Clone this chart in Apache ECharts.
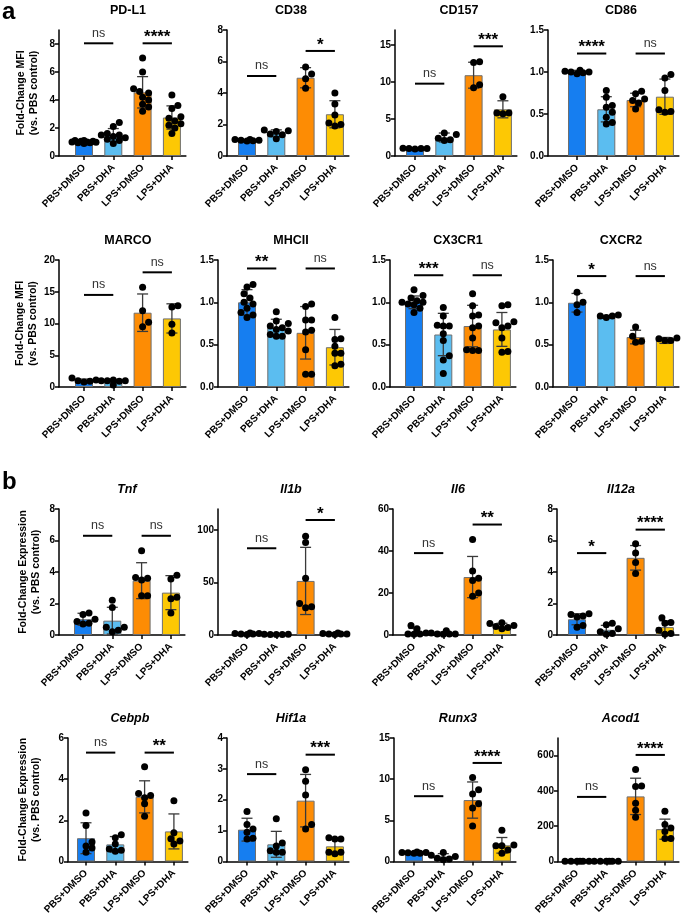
<!DOCTYPE html>
<html>
<head>
<meta charset="utf-8">
<script src="https://cdn.jsdelivr.net/npm/echarts@6/dist/echarts.min.js"></script>
<style>
  html, body { margin: 0; padding: 0; background: #fff; }
  #main { width: 685px; height: 917px; }
</style>
</head>
<body>
<div id="main"></div>
<script>
// groups on the x axis
const groups = ['PBS+DMSO', 'PBS+DHA', 'LPS+DMSO', 'LPS+DHA'];
const groupColors = ['#167ef0', '#5bbdf0', '#fd8c04', '#fdc804'];

// ---- panel a ----
const pdl1Mean = [1.0, 1.5, 4.55, 2.75];
const pdl1Sd = [0.08, 0.46, 1.12, 0.83];
const pdl1Pts = [[1.0, 0.95, 1.05, 1.1, 0.9, 1.0, 1.05, 0.95, 1.1, 0.98], [1.2, 0.9, 1.5, 1.4, 1.6, 1.1, 2.1, 2.4, 1.5, 1.3], [7.0, 6.0, 4.8, 4.6, 4.5, 4.2, 4.0, 3.7, 3.5, 3.2], [4.35, 3.6, 3.4, 2.8, 2.7, 2.5, 2.3, 2.2, 2.0, 1.6]];
const pdl1Ticks = [0, 2, 4, 6, 8];
const pdl1Sig = [[0, 1, 8.05, 'ns'], [2, 3, 8.05, '****']];

const cd38Mean = [1.0, 1.44, 4.97, 2.65];
const cd38Sd = [0.05, 0.22, 0.64, 0.86];
const cd38Pts = [[1.05, 1.0, 0.95, 1.0, 1.05, 0.97], [1.4, 1.55, 1.1, 1.65, 1.6, 1.35], [5.65, 5.2, 4.9, 4.3], [2.0, 4.0, 3.3, 1.9, 2.6, 2.1]];
const cd38Ticks = [0, 2, 4, 6, 8];
const cd38Sig = [[0, 1, 5.08, 'ns'], [2, 3, 6.67, '*']];

const cd157Mean = [1.0, 2.5, 10.9, 6.3];
const cd157Sd = [0.05, 0.6, 1.75, 1.15];
const cd157Pts = [[1.0, 1.0, 1.05, 0.95, 1.0], [2.1, 2.9, 2.2, 3.1, 2.4], [9.2, 12.6, 12.7, 9.6], [8.0, 5.8, 5.7, 5.8]];
const cd157Ticks = [0, 5, 10, 15];
const cd157Sig = [[0, 1, 9.76, 'ns'], [2, 3, 14.8, '***']];

const cd86Mean = [1.0, 0.556, 0.667, 0.706];
const cd86Sd = [0.02, 0.15, 0.08, 0.21];
const cd86Pts = [[0.98, 1.0, 1.02, 1.01, 0.99, 1.0], [0.40, 0.52, 0.70, 0.78, 0.60, 0.46, 0.38, 0.58], [0.68, 0.74, 0.56, 0.77, 0.66, 0.63], [0.93, 0.78, 0.52, 0.55, 0.53, 0.97]];
const cd86Ticks = [0, 0.5, 1.0, 1.5];
const cd86Sig = [[0, 1, 1.22, '****'], [2, 3, 1.22, 'ns']];

const marcoMean = [1.05, 0.94, 11.7, 10.8];
const marcoSd = [0.2, 0.25, 2.95, 2.3];
const marcoPts = [[1.0, 0.9, 1.1, 0.8, 1.4], [1.0, 0.3, 1.0, 1.1, 0.9, 1.0], [9.5, 15.7, 12.0, 10.2], [12.6, 9.9, 8.5, 12.8]];
const marcoTicks = [0, 5, 10, 15, 20];
const marcoSig = [[0, 1, 14.5, 'ns'], [2, 3, 18.06, 'ns']];

const mhc2Mean = [1.0, 0.70, 0.64, 0.47];
const mhc2Sd = [0.15, 0.10, 0.31, 0.21];
const mhc2Pts = [[1.21, 0.82, 1.05, 0.98, 1.18, 0.88, 1.0, 0.85, 1.1, 0.93], [0.6, 0.75, 0.62, 0.89, 0.68, 0.78, 0.72, 0.6, 0.66, 0.7], [0.98, 0.79, 0.65, 0.15, 0.67, 0.44, 0.95, 0.79, 0.15], [0.27, 0.48, 0.4, 0.82, 0.57, 0.25, 0.56, 0.4]];
const mhc2Ticks = [0, 0.5, 1.0, 1.5];
const mhc2Sig = [[0, 1, 1.40, '**'], [2, 3, 1.40, 'ns']];

const cx3cr1Mean = [1.0, 0.62, 0.72, 0.68];
const cx3cr1Sd = [0.075, 0.25, 0.245, 0.2];
const cx3cr1Pts = [[1.0, 0.88, 1.05, 1.15, 0.97, 1.02, 1.08, 0.93, 0.98, 1.0], [0.94, 0.84, 0.73, 0.72, 0.72, 0.63, 0.55, 0.37, 0.32, 0.16], [1.10, 0.96, 0.85, 0.84, 0.72, 0.7, 0.58, 0.44, 0.43, 0.43], [0.97, 0.96, 0.77, 0.76, 0.72, 0.7, 0.58, 0.42, 0.41]];
const cx3cr1Ticks = [0, 0.5, 1.0, 1.5];
const cx3cr1Sig = [[0, 1, 1.32, '***'], [2, 3, 1.32, 'ns']];

const cxcr2Mean = [0.995, 0.83, 0.59, 0.55];
const cxcr2Sd = [0.11, 0.015, 0.08, 0.035];
const cxcr2Pts = [[0.88, 1.0, 1.12, 0.97], [0.82, 0.84, 0.85, 0.84], [0.71, 0.60, 0.54, 0.53], [0.58, 0.57, 0.55, 0.55]];
const cxcr2Ticks = [0, 0.5, 1.0, 1.5];
const cxcr2Sig = [[0, 1, 1.31, '*'], [2, 3, 1.31, 'ns']];

// ---- panel b ----
const tnfMean = [1.0, 0.91, 3.45, 2.69];
const tnfSd = [0.38, 0.85, 1.14, 1.08];
const tnfPts = [[0.75, 1.0, 1.3, 1.4, 0.85, 0.7], [0.3, 2.2, 1.75, 0.5, 0.2, 0.5], [5.35, 3.65, 3.6, 3.5, 2.5, 2.5], [3.8, 2.3, 1.4, 2.4, 3.55]];
const tnfTicks = [0, 2, 4, 6, 8];
const tnfSig = [[0, 1, 6.3, 'ns'], [2, 3, 6.3, 'ns']];

const il1bMean = [1.2, 0.6, 51.5, 1.2];
const il1bSd = [0.5, 0.3, 32, 0.6];
const il1bPts = [[1.5, 1.0, 2.0, 0.5, 1.0, 1.5], [0.5, 0.6, 0.4, 0.7, 0.5], [94, 88, 54, 30, 27, 26], [2.0, 1.0, 0.5, 1.0, 1.5, 1.0]];
const il1bTicks = [0, 50, 100];
const il1bSig = [[0, 1, 82.6, 'ns'], [2, 3, 109.5, '*']];

const il6Mean = [1.5, 0.8, 27.6, 4.4];
const il6Sd = [1.6, 0.6, 9.8, 1.2];
const il6Pts = [[0.5, 3.0, 1.0, 4.5, 0.5, 0.3], [2.0, 1.0, 0.5, 0.5, 0.3, 0.5], [45.5, 30.5, 27, 26, 20, 18.5], [3.0, 4.0, 5.5, 4.5, 5.8, 3.6]];
const il6Ticks = [0, 20, 40, 60];
const il6Sig = [[0, 1, 39, 'ns'], [2, 3, 52.6, '**']];

const il12aMean = [1.0, 0.33, 4.9, 0.5];
const il12aSd = [0.35, 0.28, 0.78, 0.4];
const il12aPts = [[1.2, 0.5, 1.3, 1.35, 1.15, 0.6], [0.75, 0.65, 0.4, 0.2, 0.1, 0.05], [5.8, 5.2, 4.6, 3.9], [1.1, 0.8, 0.75, 0.3, 0.1, 0.05]];
const il12aTicks = [0, 2, 4, 6, 8];
const il12aSig = [[0, 1, 5.2, '*'], [2, 3, 6.69, '****']];

const cebpbMean = [1.13, 0.83, 3.14, 1.46];
const cebpbSd = [0.75, 0.38, 0.78, 0.85];
const cebpbPts = [[2.35, 1.75, 0.95, 0.75, 0.65, 0.45], [1.3, 1.15, 0.85, 0.55, 0.5, 0.6], [4.6, 3.3, 3.2, 3.1, 2.8, 2.2], [1.0, 2.95, 1.4, 0.85, 1.1]];
const cebpbTicks = [0, 2, 4, 6];
const cebpbSig = [[0, 1, 5.29, 'ns'], [2, 3, 5.29, '**']];

const hif1aMean = [1.03, 0.555, 1.97, 0.49];
const hif1aSd = [0.37, 0.42, 0.85, 0.24];
const hif1aPts = [[1.62, 1.2, 1.05, 0.95, 0.75, 0.73], [1.38, 0.6, 0.5, 0.35, 0.3, 0.3], [2.97, 2.6, 2.15, 1.2, 1.05], [0.77, 0.73, 0.73, 0.3, 0.25, 0.3]];
const hif1aTicks = [0, 1, 2, 3, 4];
const hif1aSig = [[0, 1, 2.83, 'ns'], [2, 3, 3.46, '***']];

const runx3Mean = [1.1, 0.6, 7.46, 1.96];
const runx3Sd = [0.08, 0.35, 2.2, 0.95];
const runx3Pts = [[1.1, 1.0, 1.1, 1.05, 1.0, 1.15], [1.1, 0.75, 0.6, 0.3, 0.2, 0.4], [8.2, 10.2, 4.3, 8.7, 6.5, 7.0], [1.4, 3.8, 1.9, 2.0, 1.9, 1.0]];
const runx3Ticks = [0, 5, 10, 15];
const runx3Sig = [[0, 1, 7.93, 'ns'], [2, 3, 11.97, '****']];

const acod1Mean = [1, 1, 369, 183];
const acod1Sd = [0.3, 0.3, 103, 57];
const acod1Pts = [[1.2, 0.8, 1.0, 1.1, 0.9, 1.0], [1.0, 1.1, 0.9, 1.0, 1.2, 0.8], [522, 428, 425, 330, 290, 250], [285, 210, 190, 170, 130, 130]];
const acod1Ticks = [0, 200, 400, 600];
const acod1Sig = [[0, 1, 366, 'ns'], [2, 3, 604, '****']];

const FONT = 'Liberation Sans, Arial, sans-serif';
const S = 29.3; // px between bar centres
const mfiName = 'Fold-Change MFI\n(vs. PBS control)';
const exprName = 'Fold-Change Expression\n(vs. PBS control)';

const panels = [
  { name: 'PD-L1', mean: pdl1Mean, sd: pdl1Sd, pts: pdl1Pts, ticks: pdl1Ticks, sig: pdl1Sig, max: 9, ax: 59, c0: 84, top: 30, bottom: 156, yName: mfiName, gap: 18 },
  { name: 'CD38', mean: cd38Mean, sd: cd38Sd, pts: cd38Pts, ticks: cd38Ticks, sig: cd38Sig, max: 8, ax: 227, c0: 247, top: 30, bottom: 156 },
  { name: 'CD157', mean: cd157Mean, sd: cd157Sd, pts: cd157Pts, ticks: cd157Ticks, sig: cd157Sig, max: 17, ax: 395, c0: 415, top: 30, bottom: 156 },
  { name: 'CD86', mean: cd86Mean, sd: cd86Sd, pts: cd86Pts, ticks: cd86Ticks, sig: cd86Sig, max: 1.5, ax: 548, c0: 577, top: 30, bottom: 156 },
  { name: 'MARCO', mean: marcoMean, sd: marcoSd, pts: marcoPts, ticks: marcoTicks, sig: marcoSig, max: 20, ax: 59, c0: 84, top: 260, bottom: 387, yName: mfiName, gap: 18 },
  { name: 'MHCII', mean: mhc2Mean, sd: mhc2Sd, pts: mhc2Pts, ticks: mhc2Ticks, sig: mhc2Sig, max: 1.5, ax: 218, c0: 247, top: 260, bottom: 387 },
  { name: 'CX3CR1', mean: cx3cr1Mean, sd: cx3cr1Sd, pts: cx3cr1Pts, ticks: cx3cr1Ticks, sig: cx3cr1Sig, max: 1.5, ax: 390, c0: 414, top: 260, bottom: 387 },
  { name: 'CXCR2', mean: cxcr2Mean, sd: cxcr2Sd, pts: cxcr2Pts, ticks: cxcr2Ticks, sig: cxcr2Sig, max: 1.5, ax: 553, c0: 577, top: 260, bottom: 387 },
  { name: 'Tnf', italic: true, mean: tnfMean, sd: tnfSd, pts: tnfPts, ticks: tnfTicks, sig: tnfSig, max: 8, ax: 59, c0: 83, top: 509, bottom: 635, yName: exprName, gap: 16 },
  { name: 'Il1b', italic: true, mean: il1bMean, sd: il1bSd, pts: il1bPts, ticks: il1bTicks, sig: il1bSig, max: 120, ax: 218, c0: 247, top: 509, bottom: 635 },
  { name: 'Il6', italic: true, mean: il6Mean, sd: il6Sd, pts: il6Pts, ticks: il6Ticks, sig: il6Sig, max: 60, ax: 393, c0: 414, top: 509, bottom: 635 },
  { name: 'Il12a', italic: true, mean: il12aMean, sd: il12aSd, pts: il12aPts, ticks: il12aTicks, sig: il12aSig, max: 8, ax: 557, c0: 577, top: 509, bottom: 635 },
  { name: 'Cebpb', italic: true, mean: cebpbMean, sd: cebpbSd, pts: cebpbPts, ticks: cebpbTicks, sig: cebpbSig, max: 6, ax: 68, c0: 86, top: 738, bottom: 865, yName: exprName, gap: 25 },
  { name: 'Hif1a', italic: true, mean: hif1aMean, sd: hif1aSd, pts: hif1aPts, ticks: hif1aTicks, sig: hif1aSig, max: 4, ax: 227, c0: 247, top: 738, bottom: 865 },
  { name: 'Runx3', italic: true, mean: runx3Mean, sd: runx3Sd, pts: runx3Pts, ticks: runx3Ticks, sig: runx3Sig, max: 15, ax: 394, c0: 414, top: 738, bottom: 865 },
  { name: 'Acod1', italic: true, mean: acod1Mean, sd: acod1Sd, pts: acod1Pts, ticks: acod1Ticks, sig: acod1Sig, max: 700, ax: 558, c0: 577, top: 738, bottom: 865 }
];

// spread overlapping dots sideways, like a prism scatter
function swarm(vals, idx, pxPerUnit) {
  const order = vals.map((v, j) => j).sort((a, b) => vals[a] - vals[b]);
  const placed = [];
  const out = [];
  order.forEach(j => {
    const y = vals[j] * pxPerUnit;
    let best = 0, bestD = -1;
    for (let k = 0; k <= 8; k++) {
      const off = (k % 2 ? 1 : -1) * Math.ceil(k / 2) * 3;
      let dmin = Infinity;
      placed.forEach(q => { dmin = Math.min(dmin, Math.hypot(off - q[0], y - q[1])); });
      if (dmin >= 6) { best = off; bestD = dmin; break; }
      if (dmin > bestD) { bestD = dmin; best = off; }
    }
    placed.push([best, y]);
    out.push([idx + best / S, vals[j]]);
  });
  return out;
}

const grids = [], xAxes = [], yAxes = [], series = [], graphics = [];
const axisLineStyle = { color: '#000', width: 1.5 };

panels.forEach((p, k) => {
  const end = p.c0 + 3 * S + 14;
  const h = p.bottom - p.top;
  grids.push({ left: p.ax, top: p.top, width: end - p.ax, height: h });

  xAxes.push({
    gridIndex: k, type: 'value',
    min: -(p.c0 - p.ax) / S, max: 3 + 14 / S,
    axisLine: { onZero: false, lineStyle: axisLineStyle },
    axisTick: { customValues: [0, 1, 2, 3], length: 4, lineStyle: axisLineStyle },
    axisLabel: {
      customValues: [0, 1, 2, 3], formatter: v => groups[Math.round(v)],
      rotate: 45, margin: 10, fontSize: 10, fontWeight: 'bold', fontFamily: FONT, color: '#000'
    },
    splitLine: { show: false }
  });

  const dec = p.max <= 2 ? 1 : 0;
  yAxes.push({
    gridIndex: k, type: 'value', min: 0, max: p.max,
    name: p.yName || '', nameLocation: 'middle', nameGap: p.gap || 0,
    nameTextStyle: { fontSize: 10.5, fontWeight: 'bold', fontFamily: FONT, color: '#000', lineHeight: 13 },
    axisLine: { show: true, onZero: false, lineStyle: axisLineStyle },
    axisTick: { show: true, customValues: p.ticks, length: 4, lineStyle: axisLineStyle },
    axisLabel: {
      customValues: p.ticks, formatter: v => v.toFixed(dec),
      margin: 4, fontSize: 10, fontWeight: 'bold', fontFamily: FONT, color: '#000'
    },
    splitLine: { show: false }
  });

  // bars
  series.push({
    type: 'bar', xAxisIndex: k, yAxisIndex: k, barWidth: 18, z: 2,
    itemStyle: { borderColor: '#6f6f6f', borderWidth: 1 },
    data: p.mean.map((m, i) => ({ value: [i, m], itemStyle: { color: groupColors[i] } }))
  });

  // SD error bars
  series.push({
    type: 'custom', xAxisIndex: k, yAxisIndex: k, z: 3,
    encode: { x: 0, y: [1, 2] },
    data: p.mean.map((m, i) => [i, Math.max(0, m - p.sd[i]), m + p.sd[i]]),
    renderItem: (params, api) => {
      const lo = api.coord([api.value(0), api.value(1)]);
      const hi = api.coord([api.value(0), api.value(2)]);
      const w = 5.5;
      const st = { stroke: '#3a3a3a', lineWidth: 1.3 };
      return {
        type: 'group', children: [
          { type: 'line', shape: { x1: lo[0], y1: lo[1], x2: hi[0], y2: hi[1] }, style: st },
          { type: 'line', shape: { x1: hi[0] - w, y1: hi[1], x2: hi[0] + w, y2: hi[1] }, style: st },
          { type: 'line', shape: { x1: lo[0] - w, y1: lo[1], x2: lo[0] + w, y2: lo[1] }, style: st }
        ]
      };
    }
  });

  // individual points
  const pxPerUnit = h / p.max;
  const dots = [];
  p.pts.forEach((vals, i) => { swarm(vals, i, pxPerUnit).forEach(d => dots.push(d)); });
  series.push({
    type: 'scatter', xAxisIndex: k, yAxisIndex: k, z: 4,
    symbolSize: 7, itemStyle: { color: '#000', opacity: 1 },
    data: dots
  });

  // significance brackets
  series.push({
    type: 'custom', xAxisIndex: k, yAxisIndex: k, z: 5,
    data: p.sig.map(s => [s[0], s[2]]),
    renderItem: (params, api) => {
      const s = p.sig[params.dataIndex];
      const a = api.coord([s[0], s[2]]), b = api.coord([s[1], s[2]]);
      const star = s[3] !== 'ns';
      return {
        type: 'group', children: [
          { type: 'line', shape: { x1: a[0], y1: a[1], x2: b[0], y2: b[1] }, style: { stroke: '#000', lineWidth: 2 } },
          {
            type: 'text', x: (a[0] + b[0]) / 2, y: a[1] - (star ? 6 : 10),
            style: {
              text: s[3], align: 'center', verticalAlign: 'middle', fill: star ? '#000' : '#333',
              fontSize: star ? 17 : 12.5, fontWeight: star ? 'bold' : 'normal', fontFamily: FONT
            }
          }
        ]
      };
    }
  });

  // panel title
  graphics.push({
    type: 'text', x: p.c0 + 1.5 * S, y: p.top - 19,
    style: {
      text: p.name, align: 'center', verticalAlign: 'middle', fill: '#000',
      fontSize: 12.5, fontWeight: 'bold', fontStyle: p.italic ? 'italic' : 'normal', fontFamily: FONT
    }
  });
});

graphics.push({ type: 'text', x: 2, y: 0, style: { text: 'a', fontSize: 24, fontWeight: 'bold', fontFamily: FONT, fill: '#000' } });
graphics.push({ type: 'text', x: 2, y: 470, style: { text: 'b', fontSize: 24, fontWeight: 'bold', fontFamily: FONT, fill: '#000' } });

const myChart = echarts.init(document.getElementById('main'));
myChart.setOption({
  animation: false,
  backgroundColor: '#fff',
  grid: grids,
  xAxis: xAxes,
  yAxis: yAxes,
  series: series,
  graphic: graphics
});
</script>
</body>
</html>
